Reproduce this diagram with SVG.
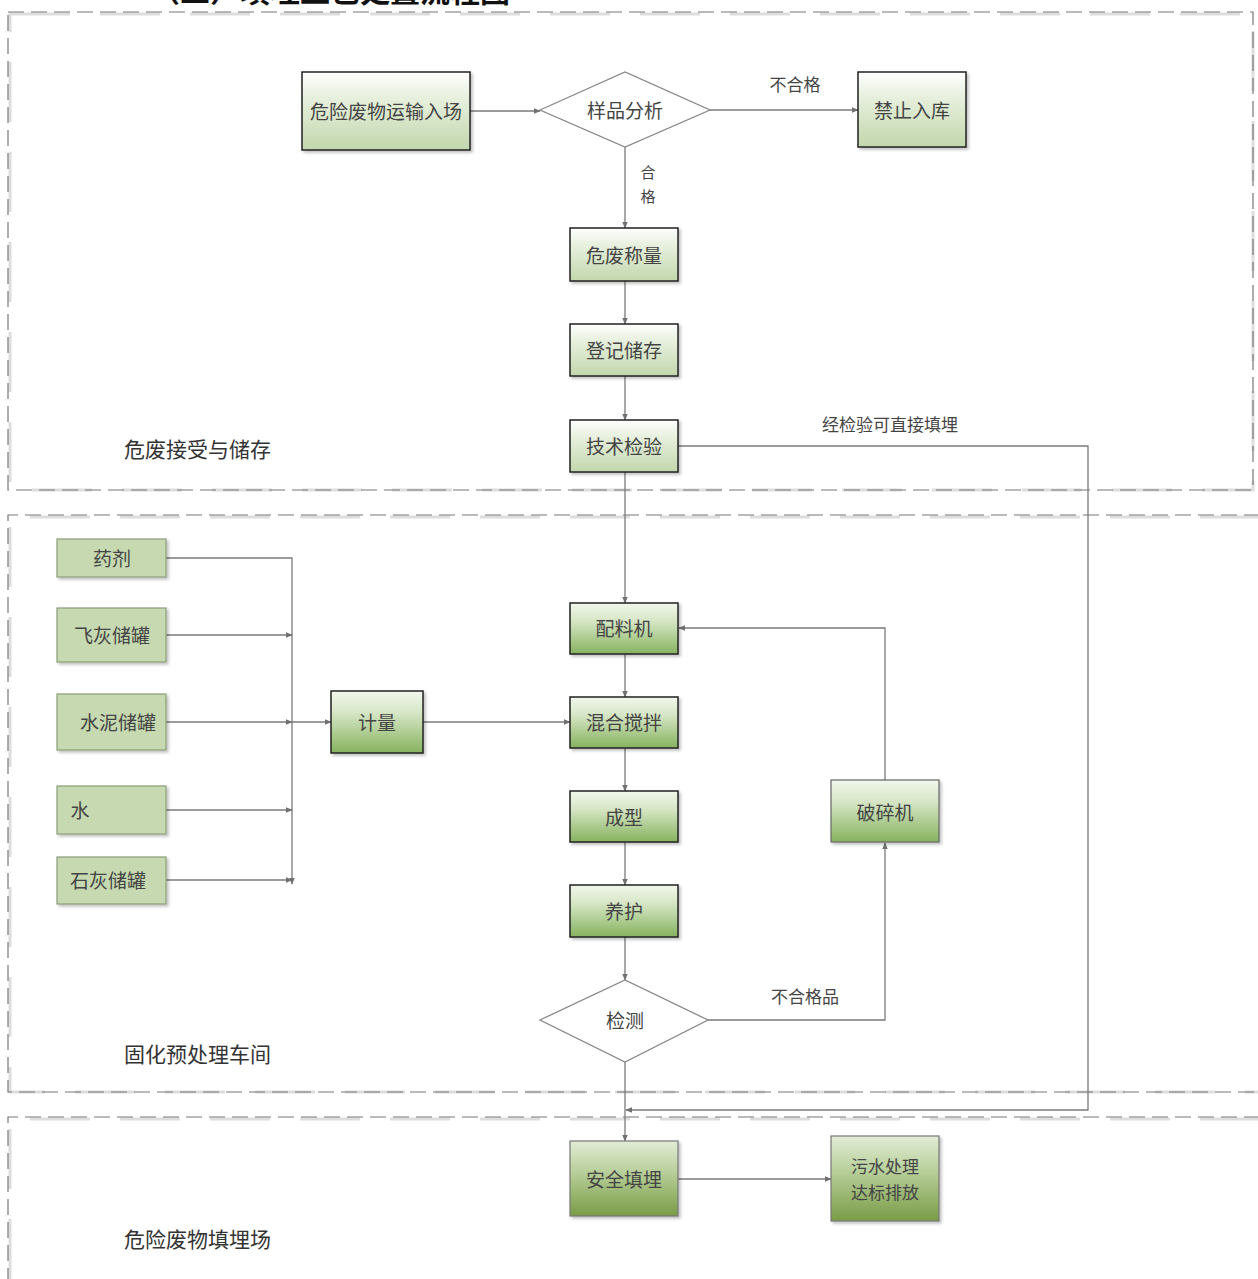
<svg xmlns="http://www.w3.org/2000/svg" width="1258" height="1279" viewBox="0 0 1258 1279">
<defs>
<linearGradient id="gA" x1="0" y1="0" x2="0" y2="1">
<stop offset="0" stop-color="#ffffff"/><stop offset="0.3" stop-color="#e9f1e0"/><stop offset="1" stop-color="#c2d7ac"/>
</linearGradient>
<linearGradient id="gB" x1="0" y1="0" x2="0" y2="1">
<stop offset="0" stop-color="#f2f7ec"/><stop offset="0.35" stop-color="#d6e6c6"/><stop offset="1" stop-color="#86b35e"/>
</linearGradient>
<linearGradient id="gC" x1="0" y1="0" x2="0" y2="1">
<stop offset="0" stop-color="#e2ecd6"/><stop offset="0.4" stop-color="#b9d09c"/><stop offset="1" stop-color="#7a9c46"/>
</linearGradient>
<marker id="ah" viewBox="0 0 10 10" refX="9" refY="5" markerWidth="7" markerHeight="7" markerUnits="userSpaceOnUse" orient="auto">
<path d="M0,1 L10,5 L0,9 z" fill="#707070"/>
</marker>
<filter id="sh" x="-10%" y="-10%" width="130%" height="130%">
<feDropShadow dx="2" dy="2" stdDeviation="1.5" flood-color="#000" flood-opacity="0.25"/>
</filter>
</defs>
<style>
.t{font-family:"Noto Sans CJK SC","Liberation Sans",sans-serif;fill:#444;font-size:19px;text-anchor:middle;dominant-baseline:central}
.t2{font-family:"Noto Sans CJK SC","Liberation Sans",sans-serif;fill:#444;font-size:17px;text-anchor:middle;dominant-baseline:central}
.lab{font-family:"Noto Sans CJK SC","Liberation Sans",sans-serif;fill:#333;font-size:21px;dominant-baseline:central}
.cl{font-family:"Noto Sans CJK SC","Liberation Sans",sans-serif;fill:#444;font-size:17px;text-anchor:middle;dominant-baseline:central}
.cs{font-family:"Noto Sans CJK SC","Liberation Sans",sans-serif;fill:#444;font-size:15px;text-anchor:middle;dominant-baseline:central}
.reg{fill:none;stroke:#777;stroke-width:1.2;stroke-dasharray:16 7}
.regs{fill:none;stroke:#ddd;stroke-width:3;stroke-dasharray:60 30}
.n1{fill:url(#gA);stroke:#222;stroke-width:1.5;filter:url(#sh)}
.n2{fill:url(#gB);stroke:#222;stroke-width:1.5;filter:url(#sh)}
.n3{fill:url(#gC);stroke:#777;stroke-width:1.2;filter:url(#sh)}
.n4{fill:url(#gB);stroke:#666;stroke-width:1.2;filter:url(#sh)}
.in{fill:#c6d9b0;stroke:#8c9c7c;stroke-width:1.2;filter:url(#sh)}
.dia{fill:#fff;stroke:#888;stroke-width:1.3}
.c{fill:none;stroke:#7a7a7a;stroke-width:1.3}
.ca{fill:none;stroke:#7a7a7a;stroke-width:1.3;marker-end:url(#ah)}
</style>
<rect width="1258" height="1279" fill="#fff"/>
<text x="330" y="2" font-family="Noto Sans CJK SC, Liberation Sans, sans-serif" font-size="30" font-weight="bold" fill="#111" text-anchor="middle">（二）填埋工艺处置流程图</text>
<g id="regions">
<rect class="regs" x="10" y="14" width="1243" height="476"/>
<rect class="reg" x="8" y="12" width="1245" height="478"/>
<path class="regs" d="M1260,517 H10 V1092 H1260"/>
<path class="reg" d="M1260,515 H8 V1092 H1260"/>
<path class="regs" d="M1260,1119 H10 V1290"/>
<path class="reg" d="M1260,1117 H8 V1290"/>
<text class="lab" x="124" y="448">危废接受与储存</text>
<text class="lab" x="124" y="1053">固化预处理车间</text>
<text class="lab" x="124" y="1238">危险废物填埋场</text>
</g>
<g id="connectors">
<line class="ca" x1="470" y1="111" x2="540" y2="111"/>
<line class="ca" x1="710" y1="110" x2="858" y2="110"/>
<line class="ca" x1="625" y1="147" x2="625" y2="228"/>
<line class="ca" x1="625" y1="281" x2="625" y2="324"/>
<line class="ca" x1="625" y1="376" x2="625" y2="420"/>
<polyline class="ca" points="678,446 1088,446 1088,1110 626,1110"/>
<line class="ca" x1="625" y1="472" x2="625" y2="603"/>
<line class="ca" x1="625" y1="654" x2="625" y2="697"/>
<line class="ca" x1="625" y1="748" x2="625" y2="791"/>
<line class="ca" x1="625" y1="842" x2="625" y2="885"/>
<line class="ca" x1="625" y1="937" x2="625" y2="980"/>
<polyline class="ca" points="708,1020 885,1020 885,843"/>
<polyline class="ca" points="885,780 885,628 679,628"/>
<line class="ca" x1="625" y1="1062" x2="625" y2="1141"/>
<line class="ca" x1="678" y1="1179" x2="831" y2="1179"/>
<polyline class="ca" points="166,558 292,558 292,884"/>
<line class="ca" x1="166" y1="635" x2="292" y2="635"/>
<line class="ca" x1="166" y1="722" x2="292" y2="722"/>
<line class="ca" x1="166" y1="810" x2="292" y2="810"/>
<line class="ca" x1="166" y1="880" x2="292" y2="880"/>
<line class="ca" x1="292" y1="722" x2="331" y2="722"/>
<line class="ca" x1="423" y1="722" x2="570" y2="722"/>
<text class="cl" x="795" y="83">不合格</text>
<text class="cs" x="648" y="171">合</text>
<text class="cs" x="648" y="195">格</text>
<text class="cl" x="890" y="423">经检验可直接填埋</text>
<text class="cl" x="805" y="995">不合格品</text>
</g>
<g id="n-transport"><rect class="n1" x="302" y="72" width="168" height="78"/><text class="t" x="386" y="110">危险废物运输入场</text></g>
<g id="n-sample"><polygon class="dia" points="540,110 625,72 710,110 625,147"/><text class="t" x="625" y="109">样品分析</text></g>
<g id="n-forbid"><rect class="n1" x="858" y="72" width="108" height="75"/><text class="t" x="912" y="109">禁止入库</text></g>
<g id="n-weigh"><rect class="n1" x="570" y="228" width="108" height="53"/><text class="t" x="624" y="254">危废称量</text></g>
<g id="n-register"><rect class="n1" x="570" y="324" width="108" height="52"/><text class="t" x="624" y="349">登记储存</text></g>
<g id="n-check"><rect class="n1" x="570" y="420" width="108" height="52"/><text class="t" x="624" y="445">技术检验</text></g>
<g id="n-reagent"><rect class="in" x="57" y="539" width="109" height="38"/><text class="t" x="112" y="557">药剂</text></g>
<g id="n-flyash"><rect class="in" x="57" y="608" width="109" height="54"/><text class="t" x="112" y="634">飞灰储罐</text></g>
<g id="n-cement"><rect class="in" x="57" y="694" width="109" height="56"/><text class="t" x="118" y="721">水泥储罐</text></g>
<g id="n-water"><rect class="in" x="57" y="786" width="109" height="48"/><text class="t" x="80" y="809">水</text></g>
<g id="n-lime"><rect class="in" x="57" y="857" width="109" height="47"/><text class="t" x="108" y="879">石灰储罐</text></g>
<g id="n-meter"><rect class="n2" x="331" y="691" width="92" height="62"/><text class="t" x="377" y="721">计量</text></g>
<g id="n-batch"><rect class="n2" x="570" y="603" width="108" height="51"/><text class="t" x="624" y="627">配料机</text></g>
<g id="n-mix"><rect class="n2" x="570" y="697" width="108" height="51"/><text class="t" x="624" y="721">混合搅拌</text></g>
<g id="n-form"><rect class="n2" x="570" y="791" width="108" height="51"/><text class="t" x="624" y="816">成型</text></g>
<g id="n-cure"><rect class="n2" x="570" y="885" width="108" height="52"/><text class="t" x="624" y="910">养护</text></g>
<g id="n-crusher"><rect class="n4" x="831" y="780" width="108" height="62"/><text class="t" x="885" y="811">破碎机</text></g>
<g id="n-test"><polygon class="dia" points="540,1020 625,980 708,1020 625,1062"/><text class="t" x="625" y="1019">检测</text></g>
<g id="n-landfill"><rect class="n3" x="570" y="1141" width="108" height="75"/><text class="t" x="624" y="1178">安全填埋</text></g>
<g id="n-sewage"><rect class="n3" x="831" y="1136" width="108" height="85"/><text class="t2" x="885" y="1165">污水处理</text><text class="t2" x="885" y="1191">达标排放</text></g>
</svg>
